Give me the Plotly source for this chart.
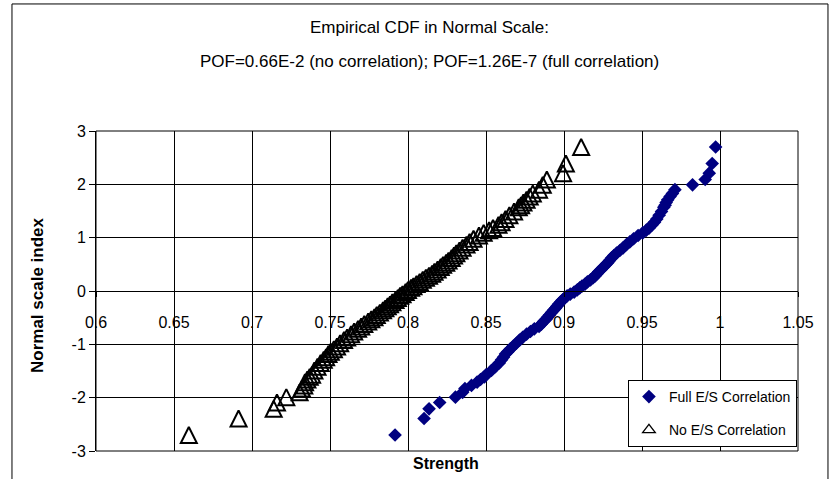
import plotly.graph_objects as go

# Normal scale index (plotting positions)
normal_index = [-2.70, -2.39, -2.21, -2.09, -1.99, -1.90, -1.83, -1.77, -1.71, -1.66, -1.61, -1.57,
                -1.49, -1.42, -1.35, -1.29, -1.24, -1.18, -1.14, -1.09, -1.04, -0.98, -0.92, -0.87,
                -0.81, -0.76, -0.71, -0.665, -0.62, -0.57, -0.53, -0.49, -0.45, -0.405, -0.36, -0.325,
                -0.285, -0.25, -0.21, -0.17, -0.13, -0.09, -0.06, -0.02,
                0.02, 0.06, 0.09, 0.13, 0.17, 0.21, 0.25, 0.285, 0.325, 0.36, 0.405, 0.45,
                0.49, 0.53, 0.57, 0.62, 0.665, 0.71, 0.76, 0.81, 0.87, 0.92, 0.98, 1.04,
                1.09, 1.14, 1.18, 1.24, 1.29, 1.35, 1.42, 1.49, 1.57, 1.61, 1.66, 1.71,
                1.77, 1.83, 1.90, 1.99, 2.09, 2.21, 2.39, 2.70]

# Strength, full E/S correlation
strength_full = [0.7917, 0.8103, 0.8135, 0.8203, 0.8304, 0.8350, 0.8365, 0.8407, 0.8443, 0.8465, 0.8490, 0.8500,
                 0.8535, 0.8560, 0.8585, 0.8600, 0.8612, 0.8625, 0.8640, 0.8655, 0.8672, 0.8695, 0.8715, 0.8735,
                 0.8760, 0.8785, 0.8810, 0.8840, 0.8855, 0.8870, 0.8885, 0.8895, 0.8907, 0.8920, 0.8933, 0.8945,
                 0.8955, 0.8965, 0.8977, 0.8990, 0.9005, 0.9020, 0.9040, 0.9065,
                 0.9085, 0.9101, 0.9115, 0.9135, 0.9150, 0.9170, 0.9187, 0.9200, 0.9212, 0.9222, 0.9238, 0.9253,
                 0.9267, 0.9280, 0.9292, 0.9305, 0.9320, 0.9337, 0.9358, 0.9379, 0.9400, 0.9422, 0.9446, 0.9475,
                 0.9505, 0.9528, 0.9545, 0.9565, 0.9580, 0.9595, 0.9610, 0.9625, 0.9640, 0.9648, 0.9655, 0.9665,
                 0.9680, 0.9695, 0.9711, 0.9824, 0.9905, 0.9931, 0.9950, 0.9972]

# Strength, no E/S correlation
strength_none = [0.6595, 0.6914, 0.7139, 0.7160, 0.7220, 0.7305, 0.7320, 0.7335, 0.7340, 0.7355, 0.7370, 0.7385,
                 0.7400, 0.7420, 0.7440, 0.7460, 0.7475, 0.7490, 0.7505, 0.7525, 0.7545, 0.7565, 0.7590, 0.7610,
                 0.7635, 0.7655, 0.7680, 0.7700, 0.7720, 0.7745, 0.7765, 0.7785, 0.7800, 0.7820, 0.7840, 0.7855,
                 0.7870, 0.7885, 0.7900, 0.7920, 0.7935, 0.7950, 0.7965, 0.7985,
                 0.8000, 0.8020, 0.8035, 0.8055, 0.8075, 0.8095, 0.8115, 0.8135, 0.8155, 0.8170, 0.8190, 0.8210,
                 0.8225, 0.8245, 0.8260, 0.8280, 0.8295, 0.8310, 0.8330, 0.8350, 0.8375, 0.8395, 0.8420, 0.8455,
                 0.8485, 0.8520, 0.8545, 0.8580, 0.8600, 0.8625, 0.8650, 0.8680, 0.8710, 0.8725, 0.8740, 0.8760,
                 0.8780, 0.8800, 0.8840, 0.8864, 0.8890, 0.8994, 0.9012, 0.9110]

x_ticks = [0.6, 0.65, 0.7, 0.75, 0.8, 0.85, 0.9, 0.95, 1.0, 1.05]
x_tick_labels = ["0.6", "0.65", "0.7", "0.75", "0.8", "0.85", "0.9", "0.95", "1", "1.05"]
y_ticks = [-3, -2, -1, 0, 1, 2, 3]
y_tick_labels = ["-3", "-2", "-1", "0", "1", "2", "3"]

series_names = ["Full E/S Correlation", "No E/S Correlation"]
title_line1 = "Empirical CDF in Normal Scale:"
title_line2 = "POF=0.66E-2 (no correlation); POF=1.26E-7 (full correlation)"
x_title = "Strength"
y_title = "Normal scale index"

FONT = "Liberation Sans, Arial, sans-serif"

fig = go.Figure()
fig.add_trace(go.Scatter(
    x=strength_full, y=normal_index, mode="markers", name=series_names[0],
    legendgroup="full",
    marker=dict(symbol="diamond", size=10.5, color="#000080", line=dict(width=0)),
))
# Open triangles, drawn as a centred upward triangle (taller than Plotly's default triangle)
fig.add_trace(go.Scatter(
    x=strength_none, y=normal_index, mode="markers", name=series_names[1],
    legendgroup="none", showlegend=False,
    marker=dict(symbol="arrow-down-open", angle=180, standoff=8, size=16,
                color="black", line=dict(width=2.0, color="black")),
))
# Legend entry for the triangles
fig.add_trace(go.Scatter(
    x=[None], y=[None], mode="markers", name=series_names[1],
    legendgroup="none", showlegend=True,
    marker=dict(symbol="triangle-up-open", size=11, color="black", line=dict(width=1.3, color="black")),
))

fig.update_layout(
    width=831, height=479,
    margin=dict(l=96, r=33, t=131, b=28),
    paper_bgcolor="white", plot_bgcolor="white",
    font=dict(family=FONT, size=16, color="black"),
    showlegend=True,
    legend=dict(
        x=0.9985, y=0.0125, xanchor="right", yanchor="bottom",
        bgcolor="white", bordercolor="black", borderwidth=1,
        font=dict(family=FONT, size=14, color="black"),
        traceorder="grouped", tracegroupgap=12, itemwidth=30,
    ),
    xaxis=dict(
        range=[0.6, 1.05], tickmode="array", tickvals=x_ticks, ticktext=x_tick_labels,
        showgrid=True, gridcolor="black", gridwidth=1,
        anchor="free", position=0.5,
        showline=True, linecolor="black", linewidth=1,
        ticks="outside", ticklen=5, tickcolor="black",
        tickfont=dict(size=16), ticklabelstandoff=12, zeroline=False,
    ),
    yaxis=dict(
        range=[-3, 3], tickmode="array", tickvals=y_ticks, ticktext=y_tick_labels,
        showgrid=True, gridcolor="black", gridwidth=1,
        showline=True, linecolor="black", linewidth=1,
        ticks="outside", ticklen=6, tickcolor="black",
        tickfont=dict(size=16), zeroline=False,
    ),
    shapes=[
        dict(type="rect", xref="paper", yref="paper", x0=0, x1=1, y0=0, y1=1,
             line=dict(color="black", width=1), layer="above"),
        dict(type="rect", xref="paper", yref="paper", x0=-0.1197, x1=1.0427, y0=-0.2, y1=1.397,
             line=dict(color="black", width=1)),
    ],
    annotations=[
        dict(text=title_line1, xref="paper", yref="paper", x=0.4744, y=(451 - 27) / 320,
             showarrow=False, xanchor="center", yanchor="middle", font=dict(size=17)),
        dict(text=title_line2, xref="paper", yref="paper", x=0.4744, y=(451 - 61) / 320,
             showarrow=False, xanchor="center", yanchor="middle", font=dict(size=17)),
        dict(text="<b>" + x_title + "</b>", xref="paper", yref="paper", x=0.4986, y=(451 - 463) / 320,
             showarrow=False, xanchor="center", yanchor="middle", font=dict(size=16)),
        dict(text="<b>" + y_title + "</b>", xref="paper", yref="paper", x=(37 - 96) / 702, y=(451 - 295) / 320,
             showarrow=False, xanchor="center", yanchor="middle", textangle=-90, font=dict(size=17)),
    ],
)

fig.write_html("out.html")
